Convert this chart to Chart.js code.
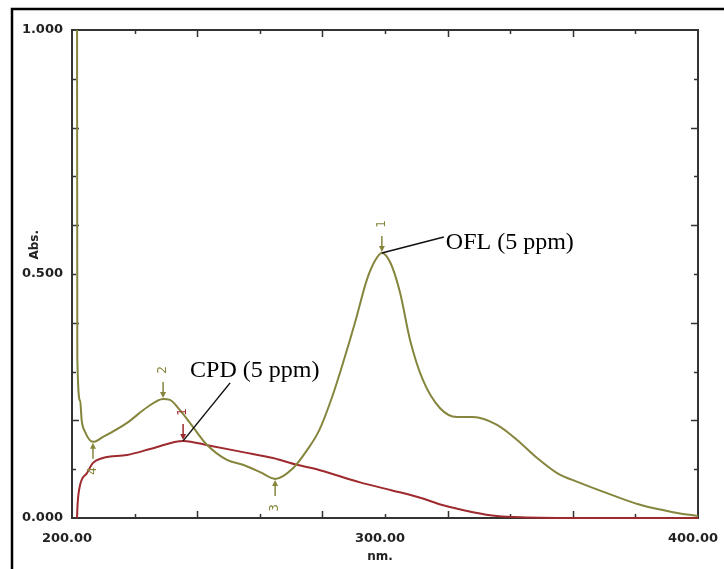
<!DOCTYPE html>
<html>
<head>
<meta charset="utf-8">
<script src="https://cdn.jsdelivr.net/npm/chart.js@4"></script>
<style>
  html, body { margin: 0; padding: 0; background: #fff; }
  #wrap { width: 724px; height: 569px; position: relative; }
</style>
</head>
<body>
<div id="wrap"><canvas id="spec" width="724" height="569"></canvas></div>
<script>
// spectrum values (nm, Abs.)
const oflNm  = [201.6, 201.7, 202.6, 203.1, 204.2, 206.7, 209.9, 217.6, 224.0, 229.1, 231.3, 234.5, 238.7, 243.1, 249.5, 254.6, 260.1, 264.9, 270.6, 275.1, 279.0, 283.1, 286.6, 290.4, 294.2, 296.8, 299.0, 301.8, 304.8, 308.0, 312.1, 317.6, 323.0, 328.1, 335.8, 342.2, 348.6, 355.0, 362.3, 370.9, 381.5, 392.0, 400.0];
const oflAbs = [1.2, 0.33, 0.24, 0.20, 0.176, 0.156, 0.166, 0.195, 0.227, 0.244, 0.242, 0.221, 0.186, 0.150, 0.119, 0.109, 0.094, 0.080, 0.102, 0.139, 0.180, 0.248, 0.318, 0.400, 0.488, 0.527, 0.543, 0.522, 0.462, 0.365, 0.283, 0.225, 0.207, 0.207, 0.191, 0.160, 0.123, 0.092, 0.072, 0.051, 0.027, 0.012, 0.004];

const cpdNm  = [201.6, 201.8, 202.6, 204.8, 206.7, 209.9, 217.6, 225.9, 235.5, 244.1, 254.6, 264.2, 271.9, 279.2, 292.0, 302.0, 312.1, 318.0, 328.1, 335.8, 345.0, 355.0, 400.0];
const cpdAbs = [0, 0.03, 0.068, 0.092, 0.113, 0.123, 0.129, 0.143, 0.158, 0.148, 0.135, 0.123, 0.109, 0.098, 0.073, 0.057, 0.040, 0.027, 0.012, 0.004, 0.001, 0, 0];

const xTickLabels = [200, 300, 400];
const yTickLabels = [0, 0.5, 1];

// picked peaks: label, nm, abs, arrow side
const oflPeaks = [['1', 299.0, 0.543, 'top'], ['2', 229.1, 0.244, 'top'], ['3', 264.9, 0.080, 'bottom'], ['4', 206.7, 0.156, 'bottom']];
const cpdPeaks = [['1', 235.5, 0.158, 'top']];

const OLIVE = '#85853d';
const RED = '#9e2a2e';

function pairs(xs, ys) { return xs.map((v, i) => ({ x: v, y: ys[i] })); }

const frame = {
  id: 'frame',
  beforeDraw(chart) {
    const c = chart.ctx;
    c.save();
    c.strokeStyle = '#000';
    c.lineWidth = 2.5;
    c.strokeRect(12, 9, 760, 620);
    c.restore();
  },
  beforeDatasetsDraw(chart) {
    const c = chart.ctx, a = chart.chartArea, x = chart.scales.x, y = chart.scales.y;
    c.save();
    c.strokeStyle = '#333';
    c.lineWidth = 2;
    c.strokeRect(a.left, a.top, a.right - a.left, a.bottom - a.top);
    c.lineWidth = 1.5;
    c.beginPath();
    for (let v = 220; v < 400; v += 20) {
      const px = Math.round(x.getPixelForValue(v)) + 0.5;
      const len = (v % 40 === 0) ? 7 : 4;
      c.moveTo(px, a.bottom); c.lineTo(px, a.bottom - len);
      c.moveTo(px, a.top); c.lineTo(px, a.top + len);
    }
    for (let k = 1; k < 10; k++) {
      const py = Math.round(y.getPixelForValue(k / 10)) + 0.5;
      const len = (k % 2 === 0) ? 7 : 4;
      c.moveTo(a.left, py); c.lineTo(a.left + len, py);
      c.moveTo(a.right, py); c.lineTo(a.right - len, py);
    }
    c.stroke();

    // axis titles
    c.fillStyle = '#222';
    c.font = 'bold 12px "DejaVu Sans"';
    c.textAlign = 'center';
    c.textBaseline = 'middle';
    c.fillText('nm.', x.getPixelForValue(300) - 5, 557);
    c.translate(35, y.getPixelForValue(0.56));
    c.rotate(-Math.PI / 2);
    c.fillText('Abs.', 0, 0);
    c.restore();
  },
  afterDatasetsDraw(chart) {
    const c = chart.ctx, x = chart.scales.x, y = chart.scales.y;
    c.save();
    function mark(p, col) {
      const px = x.getPixelForValue(p[1]), py = y.getPixelForValue(p[2]);
      const s = p[3] === 'top' ? -1 : 1;
      c.strokeStyle = col; c.fillStyle = col;
      c.lineWidth = 1.5;
      c.beginPath();
      c.moveTo(px, py + s * 17); c.lineTo(px, py + s * 3);
      c.stroke();
      c.beginPath();
      c.moveTo(px, py + s * 1);
      c.lineTo(px - 3, py + s * 7);
      c.lineTo(px + 3, py + s * 7);
      c.closePath();
      c.fill();
      c.save();
      c.translate(px, py + s * 29);
      c.rotate(-Math.PI / 2);
      c.font = '12px "DejaVu Sans"';
      c.textAlign = 'center';
      c.textBaseline = 'middle';
      c.fillText(p[0], 0, 0);
      c.restore();
    }
    oflPeaks.forEach(p => mark(p, OLIVE));
    cpdPeaks.forEach(p => mark(p, RED));

    // leader lines + captions
    c.strokeStyle = '#111';
    c.fillStyle = '#000';
    c.lineWidth = 1.5;
    c.font = '24px "Liberation Serif"';
    c.textBaseline = 'alphabetic';
    c.textAlign = 'left';
    let px = x.getPixelForValue(oflPeaks[0][1]), py = y.getPixelForValue(oflPeaks[0][2]);
    c.beginPath(); c.moveTo(px, py); c.lineTo(px + 62, py - 16); c.stroke();
    c.fillText('OFL (5 ppm)', px + 64, py - 4);
    px = x.getPixelForValue(cpdPeaks[0][1]); py = y.getPixelForValue(cpdPeaks[0][2]);
    c.beginPath(); c.moveTo(px, py); c.lineTo(px + 47, py - 58); c.stroke();
    c.fillText('CPD (5 ppm)', px + 7, py - 64);
    c.restore();
  }
};

new Chart(document.getElementById('spec'), {
  type: 'line',
  data: {
    datasets: [
      { label: 'OFL (5 ppm)', data: pairs(oflNm, oflAbs), borderColor: OLIVE, borderWidth: 2,
        pointRadius: 0, cubicInterpolationMode: 'monotone', clip: { left: 0, top: 0, right: 3, bottom: 3 } },
      { label: 'CPD (5 ppm)', data: pairs(cpdNm, cpdAbs), borderColor: RED, borderWidth: 2,
        pointRadius: 0, cubicInterpolationMode: 'monotone', clip: { left: 0, top: 0, right: 3, bottom: 3 } }
    ]
  },
  options: {
    responsive: false,
    animation: false,
    layout: { padding: { top: 30, right: 26, left: 0, bottom: 0 } },
    plugins: { legend: { display: false }, tooltip: { enabled: false } },
    scales: {
      x: {
        type: 'linear', min: 200, max: 400,
        grid: { display: false, drawTicks: false }, border: { display: false },
        afterBuildTicks: s => { s.ticks = xTickLabels.map(v => ({ value: v })); },
        afterFit: s => { s.height = 51; s.paddingLeft = 0; s.paddingRight = 0; },
        ticks: { color: '#222', font: { family: 'DejaVu Sans', size: 13, weight: 'bold' },
          padding: 13, labelOffset: -5, maxRotation: 0, callback: v => Number(v).toFixed(2) }
      },
      y: {
        type: 'linear', min: 0, max: 1,
        grid: { display: false, drawTicks: false }, border: { display: false },
        afterBuildTicks: s => { s.ticks = yTickLabels.map(v => ({ value: v })); },
        afterFit: s => { s.width = 72; s.paddingTop = 0; s.paddingBottom = 0; },
        ticks: { color: '#222', font: { family: 'DejaVu Sans', size: 13, weight: 'bold' },
          padding: 9, callback: v => Number(v).toFixed(3) }
      }
    }
  },
  plugins: [frame]
});
</script>
</body>
</html>
